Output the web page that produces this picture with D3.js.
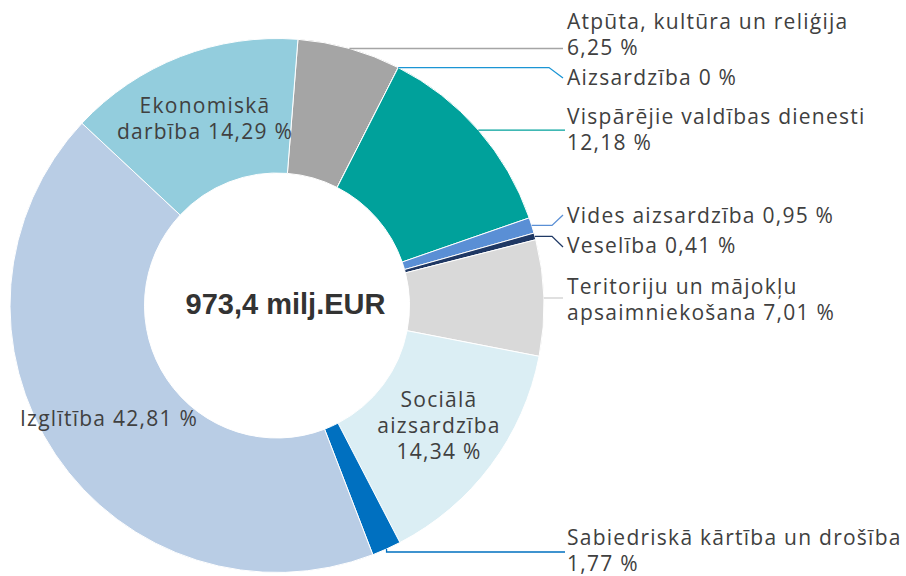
<!DOCTYPE html>
<html>
<head>
<meta charset="utf-8">
<style>
  body { margin: 0; background: #fff; }
  .lbl { font-family: "Open Sans", sans-serif; font-size: 21px; fill: #404040; letter-spacing: 1.25px; }
  .total { font-family: "Liberation Sans", Arial, sans-serif; font-size: 29px; font-weight: bold; fill: #333; }
  .slice { stroke: #fff; stroke-width: 1; }
  .leader { fill: none; stroke-width: 1.3; }
</style>
</head>
<body>
<svg class="chart"></svg>
<script src="https://d3js.org/d3.v7.min.js"></script>
<script>
// data
const categories = [
  "Atpūta, kultūra un reliģija",
  "Aizsardzība",
  "Vispārējie valdības dienesti",
  "Vides aizsardzība",
  "Veselība",
  "Teritoriju un mājokļu apsaimniekošana",
  "Sociālā aizsardzība",
  "Sabiedriskā kārtība un drošība",
  "Izglītība",
  "Ekonomiskā darbība"
];
const shares = [6.25, 0, 12.18, 0.95, 0.41, 7.01, 14.34, 1.77, 42.81, 14.29];
const totalLabel = "973,4 milj.EUR";
const sliceColors = ["#a5a5a5", "#1b95d4", "#00a19b", "#5a8fd5", "#1f3864",
                     "#d9d9d9", "#dbeef4", "#0070c0", "#b9cde5", "#93cddd"];

const width = 906, height = 576;
const cx = 277, cy = 305.5, R = 267, r0 = 132.5;
const startOffset = 4.5 * Math.PI / 180;

const svg = d3.select(".chart").attr("width", width).attr("height", height);

const pie = d3.pie().sort(null).value(d => d)
  .startAngle(startOffset).endAngle(startOffset + 2 * Math.PI);
const arc = d3.arc().innerRadius(r0).outerRadius(R);
const arcs = pie(shares);

const g = svg.append("g").attr("transform", `translate(${cx},${cy})`);
g.selectAll("path.slice")
  .data(arcs)
  .join("path")
  .attr("class", "slice")
  .attr("fill", (d, i) => sliceColors[i])
  .attr("d", arc);

// label text: number formatted with comma
const fmt = v => String(v).replace(".", ",") + " %";

// where a leader line leaves the ring (mid angle, outer edge)
function edge(d) {
  const a = (d.startAngle + d.endAngle) / 2;
  return [cx + R * Math.sin(a), cy - R * Math.cos(a)];
}

// layout of labels (index -> lines, position, leader shape)
const layout = [
  { i: 0, x: 567, y: 29, lines: [categories[0], fmt(shares[0])], leader: p => [p, [563, p[1]]] },
  { i: 1, x: 567, y: 85, lines: [categories[1] + " " + fmt(shares[1])], leader: p => [p, [549, p[1]], [563, 78]] },
  { i: 2, x: 567, y: 124, lines: [categories[2], fmt(shares[2])], leader: p => [p, [565, p[1]]] },
  { i: 3, x: 567, y: 223, lines: [categories[3] + " " + fmt(shares[3])], leader: p => [p, [552, p[1]], [563, 215]] },
  { i: 4, x: 567, y: 253, lines: [categories[4] + " " + fmt(shares[4])], leader: p => [p, [552, p[1]], [563, 247]] },
  { i: 5, x: 567, y: 294, lines: ["Teritoriju un mājokļu", "apsaimniekošana " + fmt(shares[5])],
    leader: () => [[cx + Math.sqrt(R * R - (298 - cy) ** 2), 298], [563, 298]] },
  { i: 6, x: 439, y: 407, anchor: "middle", lines: ["Sociālā", "aizsardzība", fmt(shares[6])] },
  { i: 7, x: 567, y: 545, lines: [categories[7], fmt(shares[7])], leader: p => [p, [p[0], 552], [565, 552]] },
  { i: 8, x: 20, y: 426, lines: [categories[8] + " " + fmt(shares[8])] },
  { i: 9, x: 205, y: 113, anchor: "middle", lines: ["Ekonomiskā", "darbība " + fmt(shares[9])] }
];

const line = d3.line();
layout.filter(l => l.leader).forEach(l => {
  svg.append("path")
    .attr("class", "leader")
    .attr("stroke", l.i === 5 ? "#d0d0d0" : sliceColors[l.i])
    .attr("d", line(l.leader(edge(arcs[l.i]))));
});

layout.forEach(l => {
  const t = svg.append("text")
    .attr("class", "lbl")
    .attr("x", l.x)
    .attr("y", l.y)
    .attr("text-anchor", l.anchor || "start");
  l.lines.forEach((s, k) => {
    t.append("tspan").attr("x", l.x).attr("dy", k === 0 ? 0 : 26).text(s);
  });
});

svg.append("text")
  .attr("class", "total")
  .attr("x", 285.5)
  .attr("y", 314)
  .attr("text-anchor", "middle")
  .text(totalLabel);
</script>
</body>
</html>
